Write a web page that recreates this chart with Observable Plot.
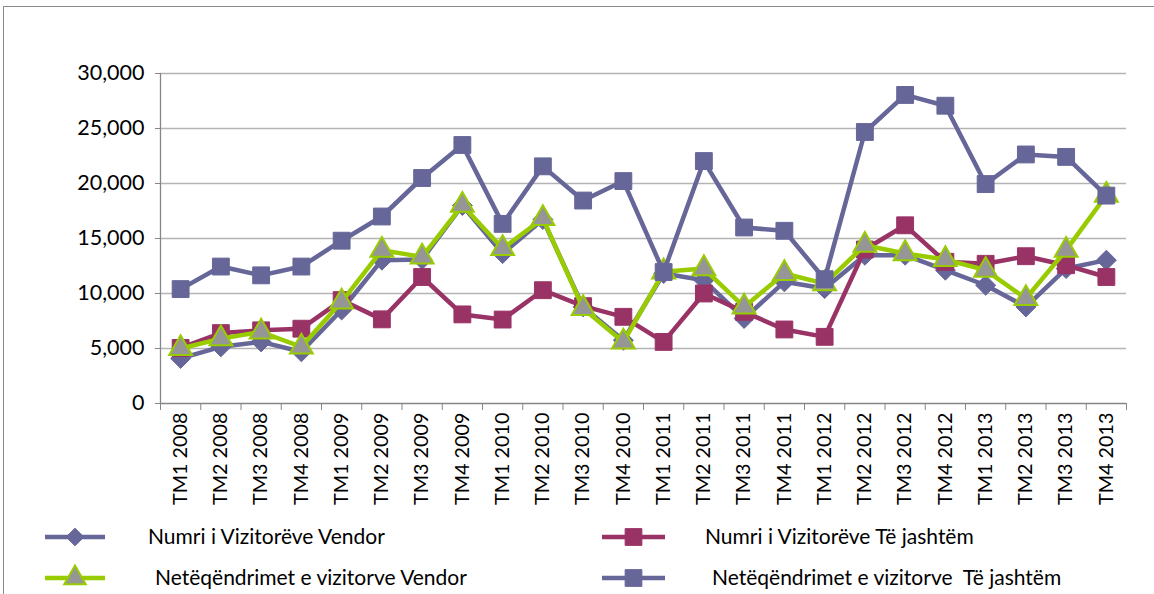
<!DOCTYPE html>
<html><head><meta charset="utf-8">
<script src="https://cdn.jsdelivr.net/npm/d3@7"></script>
<script src="https://cdn.jsdelivr.net/npm/@observablehq/plot@0.6"></script>
<style>
html,body{margin:0;padding:0;background:#fff;overflow:hidden;width:1154px;height:594px;}
#frame{position:absolute;left:3px;top:6px;width:1170px;height:620px;border:1.5px solid #8a8a8a;box-sizing:border-box;}
#chart{position:absolute;left:0;top:0;}
#legend{position:absolute;left:0;top:515px;}
</style></head><body>
<div id="frame"></div>
<div id="chart"></div>
<div id="legend"></div>
<script>
const categories = ["TM1 2008","TM2 2008","TM3 2008","TM4 2008","TM1 2009","TM2 2009","TM3 2009","TM4 2009",
  "TM1 2010","TM2 2010","TM3 2010","TM4 2010","TM1 2011","TM2 2011","TM3 2011","TM4 2011",
  "TM1 2012","TM2 2012","TM3 2012","TM4 2012","TM1 2013","TM2 2013","TM3 2013","TM4 2013"];
const numriVendor   = [4100,5150,5600,4700,8500,13030,13100,18000,13630,16730,8780,5750,11820,11200,7730,11060,10450,13480,13480,12120,10750,8780,12270,13030];
const numriJashtem  = [5050,6400,6650,6800,9400,7650,11500,8100,7630,10300,8850,7880,5600,10000,8330,6730,6060,14000,16200,12880,12700,13390,12570,11500];
const neteqVendor   = [5000,5900,6500,5150,9240,13940,13330,18030,14090,16820,8640,5600,11970,12270,8780,11820,10900,14390,13630,13090,12120,9550,13940,18940];
const neteqJashtem  = [10400,12450,11650,12450,14800,17000,20500,23500,16330,21560,18450,20220,11950,22040,16000,15700,11300,24680,28050,27070,19950,22640,22420,18900];
const seriesNames = ["Numri i Vizitorëve Vendor","Numri i Vizitorëve Të jashtëm","Netëqëndrimet e vizitorve Vendor","Netëqëndrimet e vizitorve  Të jashtëm"];
const yTicks = [0,5000,10000,15000,20000,25000,30000];

const purple = "#666699", maroon = "#993366", green = "#99CC00", triFill = "#969696";
const rows = (vals) => vals.map((v,i)=>({x:i+0.5, value:v}));
const d1 = rows(numriVendor), d2 = rows(numriJashtem), d3v = rows(neteqVendor), d4 = rows(neteqJashtem);
const LW = 4.5;
const font = "Lato, 'Open Sans', sans-serif";

const chart = Plot.plot({
  width:1154, height:515,
  marginLeft:160, marginRight:28, marginTop:73, marginBottom:112,
  style:{fontFamily:font, fontSize:"18px", color:"#000", background:"transparent", overflow:"visible"},
  x:{type:"linear", domain:[0, categories.length], label:null},
  y:{domain:[0,30000], label:null},
  marks:[
    Plot.ruleY(yTicks.filter(d=>d>0), {stroke:"#b4b4b4", strokeWidth:1.3}),
    Plot.ruleY([0], {stroke:"#868686", strokeWidth:1.3}),
    Plot.ruleX([0], {stroke:"#868686", strokeWidth:1.3}),
    Plot.axisY({ticks:yTicks, tickFormat:d3.format(","), tickSize:5, tickPadding:11, stroke:"#868686", fontSize:21.5, label:null}),
    Plot.axisX({ticks:d3.range(0, categories.length+1), tickSize:7, tickFormat:()=>"", stroke:"#868686", label:null}),
    Plot.axisX({ticks:categories.map((c,i)=>i+0.5), tickSize:0, tickPadding:9, tickRotate:-90, fontSize:19.8, label:null,
      tickFormat:d=>categories[Math.floor(d)]}),
    Plot.line(d1, {x:"x", y:"value", stroke:purple, strokeWidth:LW}),
    Plot.dot(d1, {x:"x", y:"value", symbol:"diamond2", r:9, fill:purple, stroke:purple, strokeWidth:1}),
    Plot.line(d2, {x:"x", y:"value", stroke:maroon, strokeWidth:LW}),
    Plot.dot(d2, {x:"x", y:"value", symbol:"square", r:9.5, fill:maroon, stroke:maroon, strokeWidth:1}),
    Plot.line(d3v, {x:"x", y:"value", stroke:green, strokeWidth:LW}),
    Plot.dot(d3v, {x:"x", y:"value", symbol:"triangle", r:8.5, fill:triFill, stroke:green, strokeWidth:2}),
    Plot.line(d4, {x:"x", y:"value", stroke:purple, strokeWidth:LW}),
    Plot.dot(d4, {x:"x", y:"value", symbol:"square", r:9.5, fill:purple, stroke:purple, strokeWidth:1})
  ]
});
document.getElementById("chart").appendChild(chart);

// legend
const legendItems = [
  {name:seriesNames[0], color:purple, sym:d3.symbolDiamond2, size:200, fill:purple, col:0, row:0, tx:148},
  {name:seriesNames[1], color:maroon, sym:d3.symbolSquare, size:280, fill:maroon, col:1, row:0, tx:705},
  {name:seriesNames[2], color:green, sym:d3.symbolTriangle, size:200, fill:triFill, col:0, row:1, tx:155},
  {name:seriesNames[3], color:purple, sym:d3.symbolSquare, size:280, fill:purple, col:1, row:1, tx:712}
];
const lg = d3.select("#legend").append("svg").attr("width",1154).attr("height",79)
  .style("font-family", font).style("font-size","21px");
const colX = [[45,105],[602,665]];
const rowY = [22,63];
legendItems.forEach((it)=>{
  const [x0,x1] = colX[it.col];
  const y = rowY[it.row];
  const g = lg.append("g");
  g.append("line").attr("x1",x0).attr("x2",x1).attr("y1",y).attr("y2",y).attr("stroke",it.color).attr("stroke-width",LW);
  g.append("path").attr("d", d3.symbol(it.sym, it.size)()).attr("transform",`translate(${(x0+x1)/2},${y})`)
    .attr("fill", it.fill).attr("stroke", it.color).attr("stroke-width", it.sym===d3.symbolTriangle?2:1);
  g.append("text").attr("x", it.tx).attr("y", y).attr("dy","0.35em").style("white-space","pre").text(it.name);
});
</script>
</body></html>
